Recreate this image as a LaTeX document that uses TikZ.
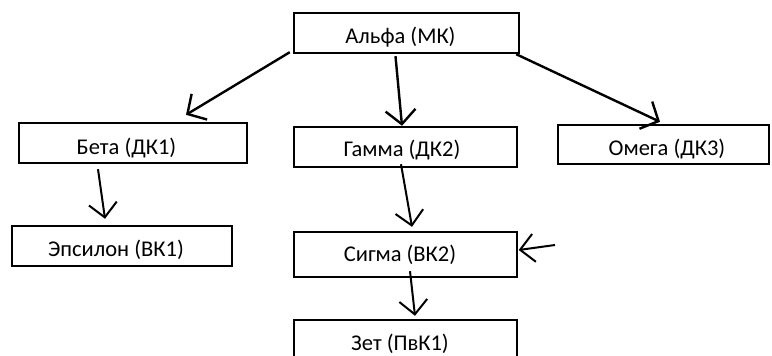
\documentclass[tikz,border=0pt]{standalone}
\usepackage{fontspec}
\setmainfont{Carlito}
\usetikzlibrary{arrows.meta,calc}
\tikzset{
  box/.style={draw=black, line width=2.4pt, rectangle, inner sep=0pt},
  lbl/.style={font=\fontsize{22.5}{24}\selectfont, inner sep=0pt, anchor=center},
  arr/.style={line width=2.4pt, -{Straight Barb[length=14pt,width=30pt,line width=2.4pt]}},
  arrthin/.style={line width=2pt, -{Straight Barb[length=14pt,width=28pt,line width=2pt]}},
}
\begin{document}
\begin{tikzpicture}[x=1pt,y=-1pt]
\useasboundingbox (0,0) rectangle (772,356);
\fill[white] (0,0) rectangle (772,356);
% boxes
\node[box, minimum width=225pt, minimum height=40pt] (alpha) at (406.5,33) {};
\node[box, minimum width=228pt, minimum height=40pt] (beta) at (133,143) {};
\node[box, minimum width=220pt, minimum height=40pt] (eps) at (122,246) {};
\node[box, minimum width=223pt, minimum height=40pt] (gamma) at (405.5,147) {};
\node[box, minimum width=211pt, minimum height=39pt] (omega) at (663.5,144.5) {};
\node[box, minimum width=223pt, minimum height=45pt] (sigma) at (405.5,254.5) {};
\node[box, minimum width=223pt, minimum height=50pt] (zet) at (405.5,345) {};
% labels
\node[lbl] (talpha) at (400.5,37) {Альфа (МК)};
\node[lbl] (tbeta) at (126.5,148) {Бета (ДК1)};
\node[lbl] (teps) at (116,250) {Эпсилон (ВК1)};
\node[lbl] (tgamma) at (402,150) {Гамма (ДК2)};
\node[lbl] (tomega) at (667,149.5) {Омега (ДК3)};
\node[lbl] (tsigma) at (400,255) {Сигма (ВК2)};
\node[lbl] (tzet) at (400,344) {Зет (ПвК1)};
% free end of the side arrow
\coordinate (side) at (555,245);
% connectors
\draw[arr] ($(alpha.south west)+(-3,-2)$) -- ($(beta.north)+(53,-7)$);
\draw[arr] ($(alpha.south)+(-11,2)$) -- ($(gamma.north)+(-3.5,0)$);
\draw[arr] ($(alpha.south east)+(-4,0)$) -- ($(omega.north)+(-3.5,-2)$);
\draw[arrthin] ($(beta.south)+(-35,5)$) -- ($(eps.north)+(-17,-6)$);
\draw[arrthin] ($(gamma.south)+(-4.5,-4)$) -- ($(sigma.north)+(6.5,-4)$);
\draw[arrthin] ($(sigma.south)+(4.5,-7)$) -- ($(zet.north)+(9.5,-3)$);
\draw[arrthin] (side) -- ($(sigma.east)+(0.5,-4.5)$);
\end{tikzpicture}
\end{document}
